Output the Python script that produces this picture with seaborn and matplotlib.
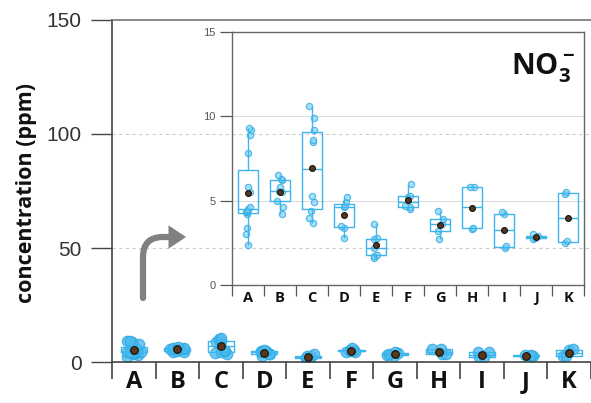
import numpy as np
import pandas as pd
import matplotlib
matplotlib.use("Agg")
import matplotlib.pyplot as plt
import seaborn as sns
from matplotlib.patches import FancyArrowPatch

# ---- data (NO3- concentration, ppm) ----
categories = list("ABCDEFGHIJK")
vals_A = [2.4, 3.0, 3.4, 4.2, 4.3, 4.3, 4.4, 4.5, 4.6, 5.5, 5.8, 7.8, 8.9, 9.2, 9.3]
vals_B = [4.2, 4.6, 5.0, 5.5, 5.6, 5.8, 6.2, 6.3, 6.5]
vals_C = [3.7, 4.0, 4.4, 4.9, 5.3, 8.5, 8.6, 9.2, 9.9, 10.6]
vals_D = [2.8, 3.4, 3.5, 4.6, 4.7, 4.9, 5.2]
vals_E = [1.6, 1.7, 1.8, 2.2, 2.7, 2.8, 3.6]
vals_F = [4.5, 4.6, 4.7, 5.2, 5.3, 6.0]
vals_G = [2.7, 3.2, 3.6, 3.9, 4.4]
vals_H = [3.3, 3.4, 5.8, 5.8]
vals_I = [2.2, 2.3, 4.2, 4.3]
vals_J = [2.7, 2.8, 2.9, 3.0]
vals_K = [2.5, 2.6, 5.4, 5.5]
main_yticks = [0, 50, 100, 150]
inset_yticks = [0, 5, 10, 15]

all_vals = [vals_A, vals_B, vals_C, vals_D, vals_E, vals_F,
            vals_G, vals_H, vals_I, vals_J, vals_K]
df = pd.DataFrame({
    "cat": [c for c, v in zip(categories, all_vals) for _ in v],
    "val": [x for v in all_vals for x in v],
})

sns.set_theme(style="white")
plt.rcParams["font.family"] = ["Liberation Sans", "DejaVu Sans"]
plt.rcParams["mathtext.fontset"] = "custom"
plt.rcParams["mathtext.rm"] = "Open Sans"
plt.rcParams["mathtext.bf"] = "Open Sans:bold"

np.random.seed(7)

BOX_C = "#3FB5EE"
PT_EDGE = "#2AA8E0"
MEAN_C = "#5A3718"
SPINE_C = "#444444"

fig = plt.figure(figsize=(5.91, 4.03), dpi=100)


def draw(ax, jitter, ptsize, meansize, boxw, face, alpha):
    sns.stripplot(data=df, x="cat", y="val", order=categories, ax=ax,
                  jitter=jitter, size=ptsize, color=face, alpha=alpha,
                  edgecolor=PT_EDGE, linewidth=0.9, zorder=2)
    sns.boxplot(data=df, x="cat", y="val", order=categories, ax=ax,
                fill=False, color=BOX_C, linecolor=BOX_C, width=boxw,
                linewidth=1.0, showfliers=False, showcaps=False, zorder=3)
    sns.pointplot(data=df, x="cat", y="val", order=categories, ax=ax,
                  estimator="mean", errorbar=None, linestyle="none",
                  marker="o", color=MEAN_C, markersize=meansize,
                  markeredgecolor="#111111", markeredgewidth=0.8, zorder=4)


# ---- main axes ----
ax = fig.add_axes([0.1895, 0.1017, 0.8105, 0.8487])
draw(ax, 0.18, 7.5, 5.5, 0.6, "#4DBBEF", 0.8)
ax.set_xlim(-0.5, 10.5)
ax.set_ylim(0, 150)
ax.set_yticks(main_yticks)
ax.set_yticklabels([str(t) for t in main_yticks], fontsize=15, color="#333333")
ax.set_xticks(range(len(categories)))
ax.set_xticklabels(categories, fontsize=17, fontweight="bold",
                   family=["Open Sans", "DejaVu Sans"], color="#111111")
ax.set_xticks(np.arange(-0.5, 10.6, 1.0), minor=True)
ax.tick_params(axis="x", which="major", length=0, pad=6)
ax.tick_params(axis="x", which="minor", length=12, width=1.2, color=SPINE_C,
               direction="out", bottom=True)
ax.tick_params(axis="y", length=15, width=1.0, color=SPINE_C, direction="out",
               left=True, pad=7)
ax.set_xlabel("")
ax.set_ylabel("")
for y in [50, 100]:
    ax.axhline(y, color="#cccccc", lw=0.8, ls=(0, (3, 3)), zorder=0)
for s in ["left", "bottom"]:
    ax.spines[s].set_color(SPINE_C)
    ax.spines[s].set_linewidth(1.2)
ax.spines["top"].set_color("#777777")
ax.spines["top"].set_linewidth(1.2)
ax.spines["right"].set_visible(False)

fig.text(27 / 591, 0.52, "concentration (ppm)", rotation=90, ha="center",
         va="center", fontsize=15.5, fontweight="bold",
         family=["Open Sans", "DejaVu Sans"], color="#111111")

# ---- inset axes ----
ax2 = fig.add_axes([0.3926, 0.2928, 0.5956, 0.6278])
ax2.set_facecolor("none")
draw(ax2, 0.1, 4.5, 4.2, 0.6, "#8AD6F7", 0.75)
ax2.set_xlim(-0.5, 10.5)
ax2.set_ylim(0, 15)
ax2.set_yticks(inset_yticks)
ax2.set_yticklabels([str(t) for t in inset_yticks], fontsize=8, color="#555555")
ax2.set_xticks(range(len(categories)))
ax2.set_xticklabels(categories, fontsize=10.5, fontweight="bold",
                    family=["Open Sans", "DejaVu Sans"], color="#111111")
ax2.set_xticks(np.arange(-0.5, 10.6, 1.0), minor=True)
ax2.tick_params(axis="x", which="major", length=0, pad=4)
ax2.tick_params(axis="x", which="minor", length=8, width=0.9, color="#555555",
                direction="out", bottom=True)
ax2.tick_params(axis="y", length=9, width=0.9, color="#555555", direction="out",
                left=True, pad=3)
ax2.set_xlabel("")
ax2.set_ylabel("")
for y in [5, 10]:
    ax2.axhline(y, color="#dddddd", lw=0.8, zorder=0)
for s in ax2.spines.values():
    s.set_color("#666666")
    s.set_linewidth(1.0)
ax2.text(0.975, 0.86, r"$\mathbf{NO_3^-}$", transform=ax2.transAxes,
         ha="right", va="center", fontsize=21, color="#111111")

# ---- curved arrow ----
arrow = FancyArrowPatch(posA=(143 / 591, 1 - 298 / 403),
                        posB=(186 / 591, 1 - 237 / 403),
                        transform=fig.transFigure,
                        connectionstyle="angle,angleA=90,angleB=0,rad=20",
                        arrowstyle="-|>,head_length=0.45,head_width=0.3",
                        mutation_scale=14, lw=4.5, color="#808080",
                        shrinkA=0, shrinkB=0, joinstyle="miter")
fig.patches.append(arrow)

fig.savefig("out.png", dpi=100)
